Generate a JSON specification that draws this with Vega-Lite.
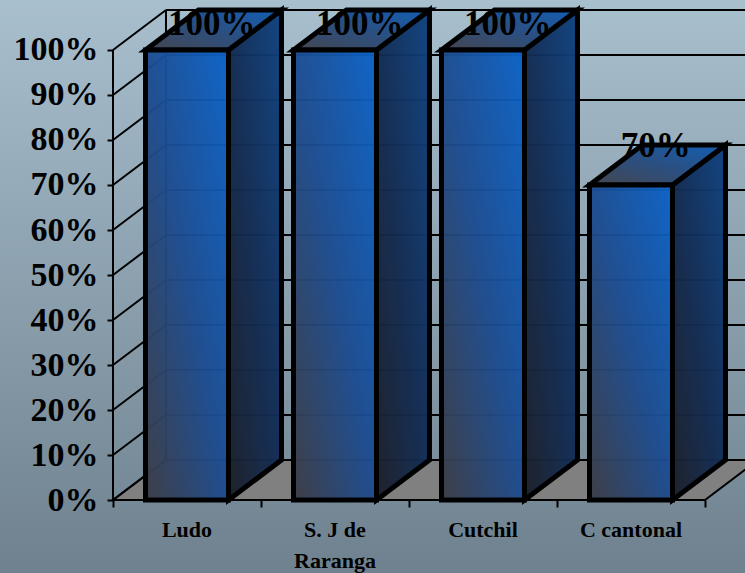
{
  "$schema": "https://vega.github.io/schema/vega-lite/v6.json",
  "width": 745,
  "height": 573,
  "padding": 0,
  "autosize": "none",
  "view": {
    "stroke": null,
    "fill": {"gradient": "linear", "x1": 0, "y1": 0, "x2": 0, "y2": 1, "stops": [
      {"offset": 0, "color": "#a8bfce"},
      {"offset": 1, "color": "#6f818e"}
    ]}
  },
  "params": [
    {"name": "dx", "value": 0.358},
    {"name": "dy", "value": 8.89},
    {"name": "hw", "value": 0.2804}
  ],
  "datasets": {
    "bars": [
      {"site": "Ludo", "label": "Ludo", "value": 100},
      {"site": "S. J de Raranga", "label": "S. J de\nRaranga", "value": 100},
      {"site": "Cutchil", "label": "Cutchil", "value": 100},
      {"site": "C cantonal", "label": "C cantonal", "value": 70}
    ],
    "levels": [
      {"level": 0}, {"level": 10}, {"level": 20}, {"level": 30}, {"level": 40}, {"level": 50},
      {"level": 60}, {"level": 70}, {"level": 80}, {"level": 90}, {"level": 100}
    ],
    "depths": [{"t": 0}, {"t": 1}]
  },
  "layer": [
    {
      "description": "Floor of the box",
      "data": {"name": "depths"},
      "transform": [
        {"calculate": "datum.t * dx", "as": "x0"},
        {"calculate": "4 + datum.t * dx", "as": "x1"},
        {"calculate": "datum.t * dy", "as": "yy"}
      ],
      "mark": {"type": "area", "orient": "horizontal", "fill": "#808080", "stroke": "#000000", "strokeWidth": 2, "clip": true},
      "encoding": {
        "y": {"field": "yy", "type": "quantitative", "stack": null,
          "scale": {"domain": [-16.22, 111.11], "nice": false, "zero": false},
          "axis": {"values": [0, 10, 20, 30, 40, 50, 60, 70, 80, 90, 100], "orient": "left", "offset": -113, "title": null,
            "domain": false, "grid": false, "ticks": true, "tickColor": "#000000", "tickSize": 6, "tickWidth": 2,
            "labelFont": "Liberation Serif", "labelFontWeight": "bold", "labelFontSize": 34, "labelColor": "#000000",
            "labelPadding": 9, "labelExpr": "datum.value + '%'", "labelOverlap": false, "labelBound": false, "labelFlush": false}},
        "x": {"field": "x0", "type": "quantitative",
          "scale": {"domain": [-0.7635, 4.2703], "nice": false, "zero": false},
          "axis": {"values": [0, 1, 2, 3, 4], "orient": "bottom", "offset": -73, "title": null, "domain": false, "grid": false,
            "labels": false, "ticks": true, "tickColor": "#000000", "tickSize": 7, "tickWidth": 2}},
        "x2": {"field": "x1"}
      }
    },
    {
      "description": "Gridlines across the back wall",
      "data": {"name": "levels"},
      "transform": [
        {"calculate": "datum.level + dy", "as": "yy"},
        {"calculate": "dx", "as": "x0"},
        {"calculate": "4 + dx", "as": "x1"}
      ],
      "mark": {"type": "rule", "stroke": "#000000", "strokeWidth": 2, "clip": true},
      "encoding": {
        "x": {"field": "x0", "type": "quantitative"},
        "x2": {"field": "x1"},
        "y": {"field": "yy", "type": "quantitative"}
      }
    },
    {
      "description": "Gridlines running up the left wall",
      "data": {"name": "levels"},
      "transform": [
        {"calculate": "datum.level + dy", "as": "yy"},
        {"calculate": "dx", "as": "x1"},
        {"calculate": "0", "as": "x0"}
      ],
      "mark": {"type": "rule", "stroke": "#000000", "strokeWidth": 2},
      "encoding": {
        "x": {"field": "x0", "type": "quantitative"},
        "x2": {"field": "x1"},
        "y": {"field": "level", "type": "quantitative"},
        "y2": {"field": "yy"}
      }
    },
    {
      "description": "Vertical edges of the left wall and the front base line",
      "data": {"name": "depths"},
      "transform": [
        {"calculate": "datum.t * dx", "as": "x0"},
        {"calculate": "datum.t * dy", "as": "y0"},
        {"calculate": "100 + datum.t * dy", "as": "y1"}
      ],
      "mark": {"type": "rule", "stroke": "#000000", "strokeWidth": 2},
      "encoding": {
        "x": {"field": "x0", "type": "quantitative"},
        "y": {"field": "y0", "type": "quantitative"},
        "y2": {"field": "y1"}
      }
    },
    {
      "description": "Right-hand side face of each bar",
      "data": {"name": "bars"},
      "transform": [
        {"window": [{"op": "row_number", "as": "n"}]},
        {"calculate": "[0, 1]", "as": "t"},
        {"flatten": ["t"]},
        {"calculate": "datum.n - 0.5 + hw + datum.t * dx", "as": "xx"},
        {"calculate": "datum.value + datum.t * dy", "as": "y0"},
        {"calculate": "datum.t * dy", "as": "y1"}
      ],
      "mark": {"type": "area", "stroke": "#000000", "strokeWidth": 5, "strokeJoin": "miter", "fillOpacity": 0.97,
        "fill": {"gradient": "linear", "x1": 0, "y1": 1, "x2": 1, "y2": 0, "stops": [
          {"offset": 0, "color": "#1c1f28"},
          {"offset": 0.5, "color": "#122c54"},
          {"offset": 1, "color": "#0e4280"}
        ]}},
      "encoding": {
        "x": {"field": "xx", "type": "quantitative"},
        "y": {"field": "y0", "type": "quantitative", "stack": null},
        "y2": {"field": "y1"},
        "detail": {"field": "site"}
      }
    },
    {
      "description": "Top face of each bar",
      "data": {"name": "bars"},
      "transform": [
        {"window": [{"op": "row_number", "as": "n"}]},
        {"calculate": "[0, 1]", "as": "t"},
        {"flatten": ["t"]},
        {"calculate": "datum.n - 0.5 - hw + datum.t * dx", "as": "x0"},
        {"calculate": "datum.n - 0.5 + hw + datum.t * dx", "as": "x1"},
        {"calculate": "datum.value + datum.t * dy", "as": "yy"}
      ],
      "mark": {"type": "area", "orient": "horizontal", "stroke": "#000000", "strokeWidth": 5, "strokeJoin": "miter",
        "fill": {"gradient": "linear", "x1": 0, "y1": 1, "x2": 1, "y2": 0, "stops": [
          {"offset": 0, "color": "#45464f"},
          {"offset": 0.5, "color": "#2b4f80"},
          {"offset": 1, "color": "#125fb5"}
        ]}},
      "encoding": {
        "y": {"field": "yy", "type": "quantitative", "stack": null},
        "x": {"field": "x0", "type": "quantitative"},
        "x2": {"field": "x1"},
        "detail": {"field": "site"}
      }
    },
    {
      "description": "Front face of each bar",
      "data": {"name": "bars"},
      "transform": [
        {"window": [{"op": "row_number", "as": "n"}]},
        {"calculate": "datum.n - 0.5 - hw", "as": "x0"},
        {"calculate": "datum.n - 0.5 + hw", "as": "x1"},
        {"calculate": "0", "as": "y1"}
      ],
      "mark": {"type": "rect", "stroke": "#000000", "strokeWidth": 5, "fillOpacity": 0.96,
        "fill": {"gradient": "linear", "x1": 0, "y1": 1, "x2": 1, "y2": 0, "stops": [
          {"offset": 0, "color": "#3c3c45"},
          {"offset": 0.5, "color": "#1c4c90"},
          {"offset": 1, "color": "#0a62c8"}
        ]}},
      "encoding": {
        "x": {"field": "x0", "type": "quantitative"},
        "x2": {"field": "x1"},
        "y": {"field": "value", "type": "quantitative"},
        "y2": {"field": "y1"}
      }
    },
    {
      "description": "Value labels above each bar",
      "data": {"name": "bars"},
      "transform": [
        {"window": [{"op": "row_number", "as": "n"}]},
        {"calculate": "datum.n - 0.5 + dx / 2 - 0.012", "as": "xx"},
        {"calculate": "min(datum.value + dy - 2.7, 103.3)", "as": "yy"},
        {"calculate": "datum.value + '%'", "as": "txt"}
      ],
      "mark": {"type": "text", "font": "Liberation Serif", "fontWeight": "bold", "fontSize": 35, "color": "#000000",
        "align": "center", "baseline": "alphabetic"},
      "encoding": {
        "x": {"field": "xx", "type": "quantitative"},
        "y": {"field": "yy", "type": "quantitative"},
        "text": {"field": "txt"}
      }
    },
    {
      "description": "Category names under the floor",
      "data": {"name": "bars"},
      "transform": [
        {"window": [{"op": "row_number", "as": "n"}]},
        {"calculate": "datum.n - 0.5", "as": "xx"},
        {"calculate": "-8.2", "as": "yy"}
      ],
      "mark": {"type": "text", "font": "Liberation Serif", "fontWeight": "bold", "fontSize": 22, "color": "#000000",
        "align": "center", "baseline": "alphabetic", "lineBreak": "\n", "lineHeight": 31},
      "encoding": {
        "x": {"field": "xx", "type": "quantitative"},
        "y": {"field": "yy", "type": "quantitative"},
        "text": {"field": "label"}
      }
    }
  ]
}
